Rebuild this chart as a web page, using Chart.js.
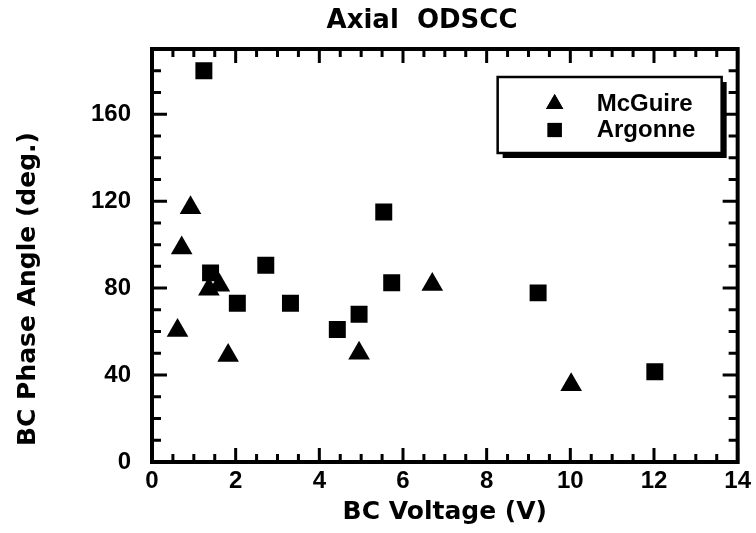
<!DOCTYPE html>
<html>
<head>
<meta charset="utf-8">
<script src="https://cdn.jsdelivr.net/npm/chart.js@4"></script>
<style>
  html, body { margin: 0; padding: 0; background: #fff; }
  #wrap { width: 756px; height: 533px; }
</style>
</head>
<body>
<div id="wrap"><canvas id="myChart"></canvas></div>
<script>
// BC phase angle vs BC voltage, axial ODSCC, two labs
const mcguireVolts = [0.61, 0.71, 0.92, 1.36, 1.61, 1.82, 4.95, 6.70, 10.02];
const mcguireAngle = [60.5, 98.5, 117, 79.5, 81.3, 49, 50, 81.7, 35.5];
const argonneVolts = [1.24, 1.40, 2.04, 2.72, 3.31, 4.43, 4.95, 5.54, 5.73, 9.23, 12.02];
const argonneAngle = [180, 87, 73, 90.5, 73, 61, 68, 115, 82.5, 77.8, 41.5];

const seriesNames = ['McGuire', 'Argonne'];
const chartTitle = 'Axial  ODSCC';
const xTitle = 'BC Voltage (V)';
const yTitle = 'BC Phase Angle (deg.)';

const FONT = '"Liberation Sans", Arial, Helvetica, sans-serif';
const WIDE = '"DejaVu Sans", sans-serif';

function toPoints(xs, ys) {
  let pts = [];
  for (let i = 0; i < xs.length; i++) {
    pts.push({ x: xs[i], y: ys[i] });
  }
  return pts;
}

// frame box with inward ticks on all four sides, titles and legend
const framePlugin = {
  id: 'frameTicks',
  afterDraw(chart) {
    const ctx = chart.ctx;
    const a = chart.chartArea;
    const xs = chart.scales.x;
    const ys = chart.scales.y;
    ctx.save();
    ctx.strokeStyle = '#000';
    ctx.lineCap = 'butt';

    // x ticks, bottom and top
    ctx.lineWidth = 3;
    for (let v = xs.min; v <= xs.max + 1e-9; v += 0.5) {
      const px = xs.getPixelForValue(v);
      const len = (Math.abs(v / 2 - Math.round(v / 2)) < 1e-6) ? 14 : 8;
      ctx.beginPath();
      ctx.moveTo(px, a.bottom); ctx.lineTo(px, a.bottom - len);
      ctx.moveTo(px, a.top); ctx.lineTo(px, a.top + len);
      ctx.stroke();
    }
    // y ticks, left and right
    for (let v = ys.min; v <= ys.max + 1e-9; v += 10) {
      const py = ys.getPixelForValue(v);
      const len = (v % 40 === 0) ? 15 : 9;
      ctx.beginPath();
      ctx.moveTo(a.left, py); ctx.lineTo(a.left + len, py);
      ctx.moveTo(a.right, py); ctx.lineTo(a.right - len, py);
      ctx.stroke();
    }
    // frame
    ctx.lineWidth = 4;
    ctx.strokeRect(a.left, a.top, a.right - a.left, a.bottom - a.top);

    // chart title
    ctx.fillStyle = '#000';
    ctx.textAlign = 'center';
    ctx.textBaseline = 'middle';
    ctx.font = 'bold 26px ' + WIDE;
    ctx.fillText(chartTitle, a.left + 270, 21);

    // axis titles
    ctx.font = 'bold 25px ' + WIDE;
    ctx.fillText(xTitle, (a.left + a.right) / 2, 512);
    ctx.save();
    ctx.translate(28, 289);
    ctx.rotate(-Math.PI / 2);
    ctx.fillText(yTitle, 0, 0);
    ctx.restore();

    // legend box with drop shadow
    const bx = a.right - 240, by = a.top + 28, bw = 224, bh = 76;
    ctx.fillRect(bx + 5, by + 5, bw, bh);
    ctx.fillStyle = '#fff';
    ctx.fillRect(bx, by, bw, bh);
    ctx.lineWidth = 2.5;
    ctx.strokeRect(bx, by, bw, bh);
    ctx.fillStyle = '#000';
    ctx.font = 'bold 24px ' + FONT;
    ctx.textAlign = 'left';
    chart.data.datasets.forEach(function(ds, i) {
      const cy = by + 27 + i * 26;
      Chart.helpers.drawPoint(ctx, {
        pointStyle: ds.pointStyle,
        radius: 10,
        borderWidth: 0
      }, bx + 57, cy);
      ctx.fill();
      ctx.fillText(seriesNames[i], bx + 99, cy);
    });
    ctx.restore();
  }
};

const ctx1 = document.getElementById('myChart');

new Chart(ctx1, {
  type: 'scatter',
  data: {
    datasets: [{
      label: seriesNames[0],
      data: toPoints(mcguireVolts, mcguireAngle),
      pointStyle: 'triangle',
      pointRadius: 12.5,
      backgroundColor: '#000',
      borderColor: '#000',
      borderWidth: 0
    }, {
      label: seriesNames[1],
      data: toPoints(argonneVolts, argonneAngle),
      pointStyle: 'rect',
      pointRadius: 12,
      backgroundColor: '#000',
      borderColor: '#000',
      borderWidth: 0
    }]
  },
  options: {
    responsive: true,
    maintainAspectRatio: false,
    animation: false,
    events: [],
    layout: { padding: { left: 60, right: 13, top: 49, bottom: 28 } },
    plugins: {
      legend: { display: false },
      tooltip: { enabled: false }
    },
    scales: {
      x: {
        type: 'linear',
        min: 0,
        max: 14,
        grid: { display: false, drawTicks: false },
        border: { display: false },
        ticks: {
          stepSize: 2,
          includeBounds: false,
          padding: 5,
          color: '#000',
          font: { family: FONT, size: 24, weight: 'bold' },
          maxRotation: 0
        },
        afterFit: function(s) { s.height = 43; }
      },
      y: {
        min: 0,
        max: 190,
        grid: { display: false, drawTicks: false },
        border: { display: false },
        ticks: {
          stepSize: 40,
          includeBounds: false,
          padding: 21,
          color: '#000',
          font: { family: FONT, size: 24, weight: 'bold' }
        },
        afterFit: function(s) { s.width = 92; }
      }
    }
  },
  plugins: [framePlugin]
});
</script>
</body>
</html>
